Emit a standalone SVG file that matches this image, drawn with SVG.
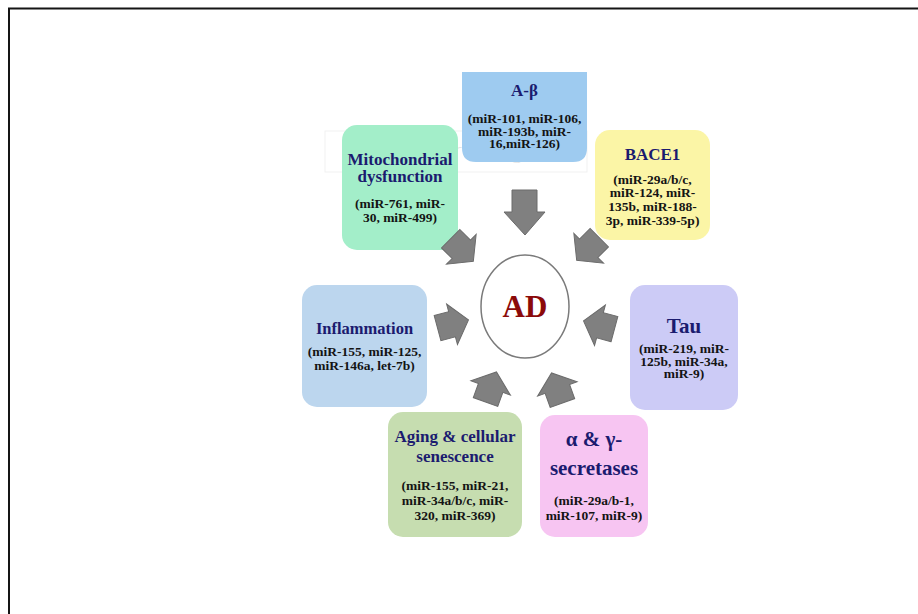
<svg xmlns="http://www.w3.org/2000/svg" width="918" height="614" viewBox="0 0 918 614">
<style>
.box{stroke:none}
.ttl{font-family:"Liberation Serif","Times New Roman",serif;font-weight:bold;fill:#1b1b6f;text-anchor:middle}
.body{font-family:"Liberation Serif","Times New Roman",serif;font-weight:bold;fill:#141414;text-anchor:middle;font-size:13.5px}
.arr{fill:#808080;stroke:#6b6b6b;stroke-width:1;stroke-linejoin:miter}
.wm{font-family:"Open Sans","DejaVu Sans",sans-serif;font-weight:300;font-size:20px;fill:#000;opacity:0.1}
</style>
<defs>
<path id="sideArrow" d="M-16,-13 H-1 V-21 L16,0 L-1,21 V13 H-16 Z"/>
</defs>
<rect x="0" y="0" width="918" height="614" fill="#ffffff"/>
<g id="frame" stroke="#151515" stroke-width="2" fill="none">
<line x1="8" y1="8.5" x2="918" y2="8.5"/>
<line x1="9" y1="8" x2="9" y2="614"/>
</g>
<g id="watermark">
<rect x="325" y="131" width="262" height="41" fill="none" stroke="#000" stroke-opacity="0.06"/>
<text class="wm" x="377" y="158">Capture rectangle</text>
</g>
<g id="node-abeta">
<path class="box" fill="#9ecbf0" d="M462,72 H587 V148 Q587,162 573,162 H476 Q462,162 462,148 Z"/>
<text class="ttl" x="524.5" y="96" font-size="17">A-β</text>
<text class="body" x="524.5" y="123" font-size="13">(miR-101, miR-106,</text>
<text class="body" x="524.5" y="135.5" font-size="13">miR-193b, miR-</text>
<text class="body" x="524.5" y="148" font-size="13">16,miR-126)</text>
</g>
<g id="node-mito">
<rect class="box" x="342" y="125" width="116" height="125" rx="15" fill="#a3eec9"/>
<text class="ttl" x="400" y="165" font-size="17">Mitochondrial</text>
<text class="ttl" x="400" y="182" font-size="17">dysfunction</text>
<text class="body" x="400" y="208">(miR-761, miR-</text>
<text class="body" x="400" y="222">30, miR-499)</text>
</g>
<g id="node-bace1">
<rect class="box" x="595" y="130" width="115" height="110" rx="15" fill="#fbf5a6"/>
<text class="ttl" x="652.5" y="160" font-size="17">BACE1</text>
<text class="body" x="652.5" y="183.5" font-size="14">(miR-29a/b/c,</text>
<text class="body" x="652.5" y="197" font-size="14">miR-124, miR-</text>
<text class="body" x="652.5" y="210.5" font-size="14">135b, miR-188-</text>
<text class="body" x="652.5" y="224.5" font-size="14">3p, miR-339-5p)</text>
</g>
<g id="node-inflammation">
<rect class="box" x="302" y="285" width="125" height="122" rx="15" fill="#bcd6ee"/>
<text class="ttl" x="364.5" y="334" font-size="16.5">Inflammation</text>
<text class="body" x="364.5" y="356">(miR-155, miR-125,</text>
<text class="body" x="364.5" y="369.5">miR-146a, let-7b)</text>
</g>
<g id="node-tau">
<rect class="box" x="630" y="285" width="108" height="125" rx="15" fill="#cccbf6"/>
<text class="ttl" x="684" y="333" font-size="21">Tau</text>
<text class="body" x="684" y="353">(miR-219, miR-</text>
<text class="body" x="684" y="365.5">125b, miR-34a,</text>
<text class="body" x="684" y="378">miR-9)</text>
</g>
<g id="node-aging">
<rect class="box" x="388" y="412" width="134" height="125" rx="15" fill="#c6ddb0"/>
<text class="ttl" x="455" y="442" font-size="17">Aging &amp; cellular</text>
<text class="ttl" x="455" y="462" font-size="17">senescence</text>
<text class="body" x="455" y="489.5">(miR-155, miR-21,</text>
<text class="body" x="455" y="504.5">miR-34a/b/c, miR-</text>
<text class="body" x="455" y="519.5">320, miR-369)</text>
</g>
<g id="node-secretases">
<rect class="box" x="540" y="415" width="108" height="122" rx="15" fill="#f7c5f2"/>
<text class="ttl" x="594" y="446" font-size="21">α &amp; γ-</text>
<text class="ttl" x="594" y="475" font-size="21">secretases</text>
<text class="body" x="594" y="504.5">(miR-29a/b-1,</text>
<text class="body" x="594" y="519.5">miR-107, miR-9)</text>
</g>
<g id="node-ad">
<ellipse cx="525" cy="306.5" rx="44" ry="51.5" fill="#ffffff" stroke="#7a7a7a" stroke-width="1.5"/>
<text x="525" y="317" text-anchor="middle" font-family="Liberation Serif, Times New Roman, serif" font-weight="bold" font-size="31" fill="#8b0a0a">AD</text>
</g>
<g id="connectors">
<path class="arr" d="M512,190 H537 V212 H545 L525,235 L504,212 H512 Z"/>
<use href="#sideArrow" class="arr" transform="translate(462,250) rotate(45)"/>
<use href="#sideArrow" class="arr" transform="translate(588,249) rotate(135)"/>
<use href="#sideArrow" class="arr" transform="translate(453,324) rotate(-15)"/>
<use href="#sideArrow" class="arr" transform="translate(599,325) rotate(195)"/>
<use href="#sideArrow" class="arr" transform="translate(491,387) rotate(-70)"/>
<use href="#sideArrow" class="arr" transform="translate(557,388) rotate(-110)"/>
</g>
</svg>
